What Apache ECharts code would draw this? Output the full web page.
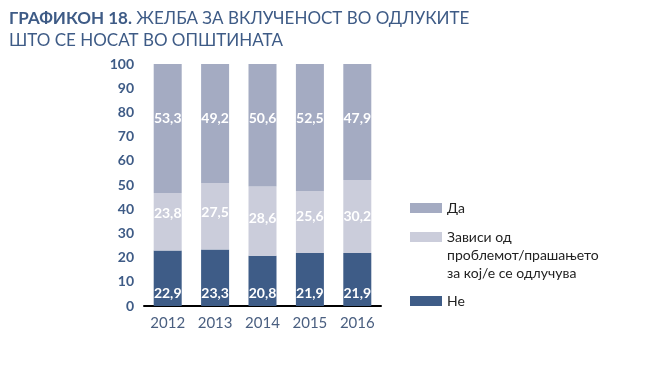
<!DOCTYPE html>
<html><head><meta charset="utf-8">
<script src="https://cdn.jsdelivr.net/npm/echarts@6/dist/echarts.min.js"></script>
<style>html,body{margin:0;padding:0;background:#fff}#c{width:664px;height:373px}</style>
</head><body><div id="c"></div>
<script>
var categories = ['2012', '2013', '2014', '2015', '2016'];
var seriesNe = [22.9, 23.3, 20.8, 21.9, 21.9];
var seriesZavisi = [23.8, 27.5, 28.6, 25.6, 30.2];
var seriesDa = [53.3, 49.2, 50.6, 52.5, 47.9];
var yTicks = [0, 10, 20, 30, 40, 50, 60, 70, 80, 90, 100];
var names = ['Да', 'Зависи од\nпроблемот/прашањето\nза кој/е се одлучува', 'Не'];

var FONT = 'Lato';
var chart = echarts.init(document.getElementById('c'));
function fmt(p){ return p.value.toFixed(1).replace('.', ','); }
var lbl = {show: true, color: '#fff', fontFamily: FONT, fontSize: 14, fontWeight: 'bold', formatter: fmt, align: 'center', verticalAlign: 'middle'};
function leg(name, top, formatter){
  var l = {
    orient: 'vertical', left: 410, top: top, padding: 0, itemWidth: 32, itemHeight: 10,
    data: [name], icon: 'rect', selectedMode: false,
    textStyle: {fontFamily: FONT, fontSize: 14, color: '#222', lineHeight: 18}
  };
  if (formatter) l.formatter = formatter;
  return l;
}
chart.setOption({
  animation: false,
  title: [{
    text: '{b|ГРАФИКОН 18.} ЖЕЛБА ЗА ВКЛУЧЕНОСТ ВО ОДЛУКИТЕ\nШТО СЕ НОСАТ ВО ОПШТИНАТА',
    left: 4, top: 3,
    textStyle: {fontFamily: FONT, fontSize: 17, fontWeight: 'normal', color: '#3e5b86', lineHeight: 22,
      rich: {b: {fontFamily: FONT, fontSize: 17, fontWeight: 'bold', color: '#3e5b86'}}}
  }],
  grid: {left: 144, right: 283, top: 64, bottom: 67},
  legend: [
    leg(names[0], 199),
    leg(names[1], 192, function(n){ return '\n\n' + n; }),
    leg(names[2], 292)
  ],
  xAxis: {
    type: 'category', data: categories,
    axisLine: {lineStyle: {color: '#000', width: 2}},
    axisTick: {show: false},
    axisLabel: {fontFamily: FONT, fontSize: 15, color: '#4a5f80', margin: 10}
  },
  yAxis: {
    type: 'value', min: 0, max: 100, interval: 10,
    axisLine: {show: false}, axisTick: {show: false}, splitLine: {show: false},
    axisLabel: {fontFamily: FONT, fontSize: 14, fontWeight: 'bold', color: '#3e5b86', margin: 10,
      formatter: function(v){ return yTicks.indexOf(v) >= 0 ? String(v) : ''; }}
  },
  series: [
    {name: names[2], type: 'bar', stack: 's', data: seriesNe, barWidth: 28,
      itemStyle: {color: '#3e5c87'},
      label: Object.assign({}, lbl, {position: ['50%', '100%'], offset: [0, -13]})},
    {name: names[1], type: 'bar', stack: 's', data: seriesZavisi, barWidth: 28,
      itemStyle: {color: '#cbcddb'},
      label: Object.assign({}, lbl, {position: ['50%', '100%'], offset: [0, -37]})},
    {name: names[0], type: 'bar', stack: 's', data: seriesDa, barWidth: 28,
      itemStyle: {color: '#a4abc2'},
      label: Object.assign({}, lbl, {position: ['50%', 54]})}
  ]
});
</script></body></html>
